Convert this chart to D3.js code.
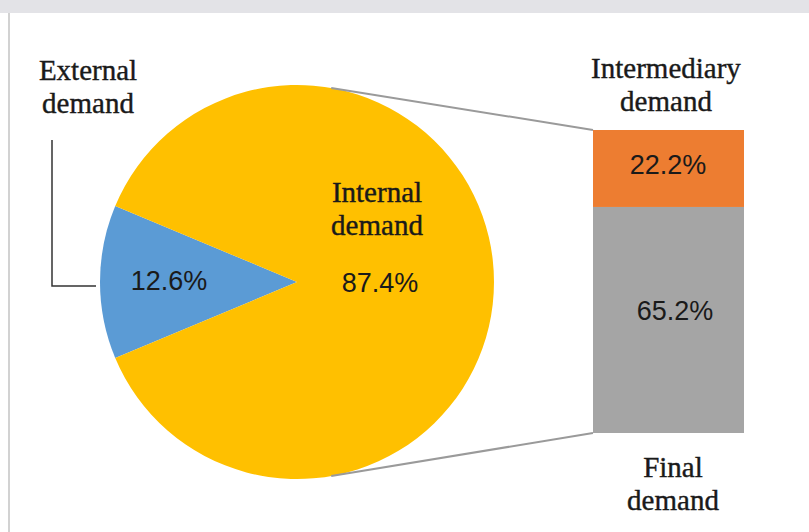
<!DOCTYPE html>
<html>
<head>
<meta charset="utf-8">
<script src="https://cdn.jsdelivr.net/npm/d3@7"></script>
<style>
  body { margin: 0; background: #fff; }
  svg { display: block; }
</style>
</head>
<body>
<svg id="chart" width="809" height="532"></svg>
<script>
// pie: share of total demand
const pieLabels = ["External demand", "Internal demand"];
const pieValues = [12.6, 87.4];
const pieColors = ["#5B9BD5", "#FFC000"];

// bar: breakdown of internal demand (bottom to top)
const barLabels = ["Final demand", "Intermediary demand"];
const barValues = [65.2, 22.2];
const barColors = ["#A5A5A5", "#ED7D31"];

const svg = d3.select('#chart');
const W = 809, H = 532;

const CX = 297, CY = 282, R = 197;
const BAR_X = 593, BAR_W = 151, BAR_TOP = 130, BAR_BOTTOM = 433;
const LINK_ANGLE = 10 * Math.PI / 180;

const SERIF = '"Liberation Serif", "Times New Roman", serif';
const SANS = '"Liberation Sans", Arial, sans-serif';

// frame remnants of the screenshot
svg.append('rect')
    .attr('x', 0).attr('y', 0).attr('width', W).attr('height', 13)
    .attr('fill', '#e3e3e7');
svg.append('line')
    .attr('x1', 9).attr('x2', 9).attr('y1', 13).attr('y2', H)
    .attr('stroke', '#d2d2d2').attr('stroke-width', 2);

// pie, external slice centred on the left
const extShare = pieValues[0] / d3.sum(pieValues);
const start = 1.5 * Math.PI - extShare * Math.PI;
const pie = d3.pie().sort(null).startAngle(start).endAngle(start + 2 * Math.PI);
const arc = d3.arc().innerRadius(0).outerRadius(R);
const arcs = pie(pieValues);

const pieG = svg.append('g').attr('transform', `translate(${CX},${CY})`);
pieG.selectAll('path')
    .data(arcs)
    .enter()
    .append('path')
    .attr('d', arc)
    .attr('fill', (d, i) => pieColors[i]);

// stacked bar
const y = d3.scaleLinear()
    .domain([0, d3.sum(barValues)])
    .range([BAR_BOTTOM, BAR_TOP]);
const stacked = [];
let acc = 0;
barValues.forEach((v, i) => {
    stacked.push({ v: v, i: i, y0: acc, y1: acc + v });
    acc += v;
});
svg.selectAll('.seg')
    .data(stacked)
    .enter()
    .append('rect')
    .attr('class', 'seg')
    .attr('x', BAR_X)
    .attr('width', BAR_W)
    .attr('y', d => y(d.y1))
    .attr('height', d => y(d.y0) - y(d.y1))
    .attr('fill', d => barColors[d.i]);

// connector lines between pie and bar
const linkDx = R * Math.sin(LINK_ANGLE), linkDy = R * Math.cos(LINK_ANGLE);
svg.append('line')
    .attr('x1', CX + linkDx).attr('y1', CY - linkDy)
    .attr('x2', BAR_X).attr('y2', y(d3.sum(barValues)))
    .attr('stroke', '#9a9a9a').attr('stroke-width', 2);
svg.append('line')
    .attr('x1', CX + linkDx).attr('y1', CY + linkDy)
    .attr('x2', BAR_X).attr('y2', y(0))
    .attr('stroke', '#9a9a9a').attr('stroke-width', 2);

// percentage labels
function pct(v) { return v.toFixed(1) + '%'; }

function addText(txt, x, yy, font, size) {
    return svg.append('text')
        .text(txt)
        .attr('x', x)
        .attr('y', yy)
        .attr('text-anchor', 'middle')
        .attr('font-family', font)
        .attr('font-size', size)
        .attr('fill', '#1a1a1a');
}

addText(pct(pieValues[0]), 169, 290, SANS, 27);
addText(pct(pieValues[1]), 380, 292, SANS, 27);
addText(pct(barValues[1]), 668, 174, SANS, 27);
addText(pct(barValues[0]), 675, 320, SANS, 27);

// category labels (two lines each)
function addLabel(label, x, yy) {
    const words = label.split(' ');
    words.forEach((w, k) => {
        addText(w, x, yy + k * 33, SERIF, 29)
            .attr('stroke', '#1a1a1a')
            .attr('stroke-width', 0.4);
    });
}
addLabel(pieLabels[0], 88, 80);
addLabel(pieLabels[1], 377, 202);
addLabel(barLabels[1], 666, 78);
addLabel(barLabels[0], 673, 477);

// leader line for the external slice
svg.append('path')
    .attr('d', `M52,140 V286 H96`)
    .attr('fill', 'none')
    .attr('stroke', '#333')
    .attr('stroke-width', 1.5);
</script>
</body>
</html>
